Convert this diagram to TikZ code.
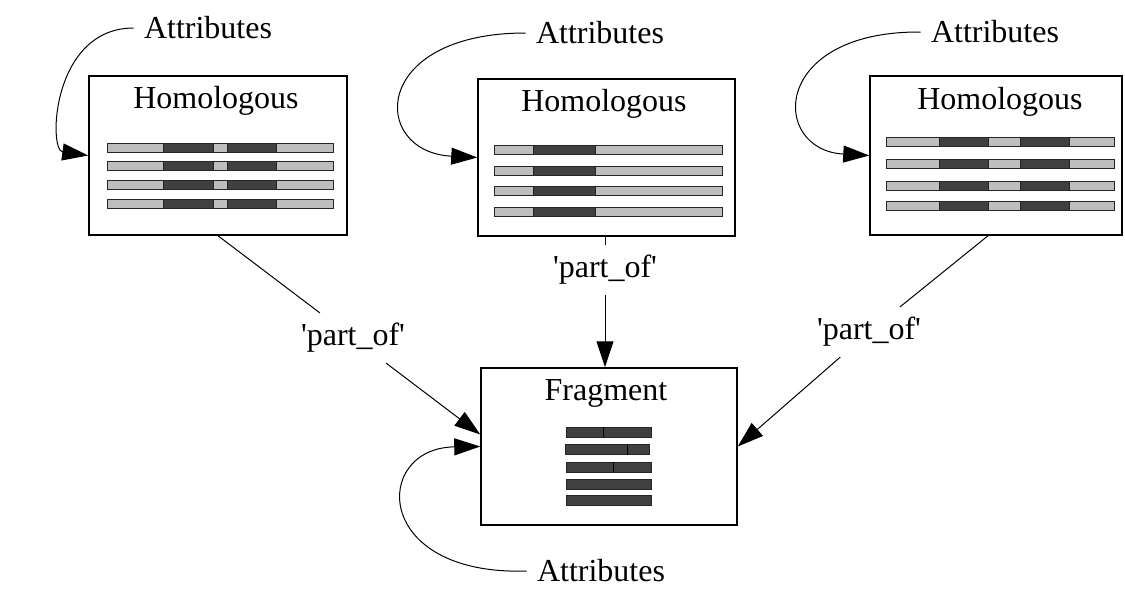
\documentclass[tikz,border=0pt]{standalone}
\usepackage{fontspec}
\setmainfont{Liberation Serif}
\usepackage{tikz}
\usetikzlibrary{arrows.meta,calc}
\definecolor{segLight}{HTML}{BEBEBE}
\definecolor{segDark}{HTML}{404040}

\begin{document}
\begin{tikzpicture}[
  x=0.5pt, y=-0.5pt,
  font=\fontsize{16}{19}\selectfont,
  box/.style={draw=black, line width=0.75pt, fill=white, inner sep=0pt},
  title/.style={inner sep=0pt},
  attr/.style={inner sep=5pt},
  rlabel/.style={inner sep=5pt},
  rel/.style={line width=0.5pt, draw=black},
  flow/.style={rel, -{Triangle[length=13pt,width=8.5pt]}},
  lite/.style={draw=black!85, line width=0.5pt, fill=segLight},
  dark/.style={draw=black!85, line width=0.5pt, fill=segDark},
]
\useasboundingbox (0,0) rectangle (1125,590);

% --- homologous boxes and the fragment --------------------------------------
\node[box, minimum width=129pt, minimum height=79.5pt] (h1) at (218,155.5) {};
\node[box, minimum width=128.5pt, minimum height=78.5pt] (h2) at (606.5,157.5) {};
\node[box, minimum width=126pt, minimum height=79.5pt] (h3) at (996,155.5) {};
\node[box, minimum width=128pt, minimum height=78.5pt] (frag) at (609,446.5) {};

\node[title] (t1) at (216,101) {Homologous};
\node[title] (t2) at (604,104) {Homologous};
\node[title] (t3) at (1000,102) {Homologous};
\node[title] (t4) at (606,393) {Fragment};

% --- aligned sequences --------------------------------------------------------
\foreach \y in {148,166,185,204}{
  \draw[lite] (107,\y-4.5) rectangle (333,\y+4.5);
  \draw[dark] (163,\y-4.5) rectangle (213,\y+4.5);
  \draw[dark] (227,\y-4.5) rectangle (276,\y+4.5);
}
\foreach \y in {150,171,191,212}{
  \draw[lite] (494,\y-4.5) rectangle (722,\y+4.5);
  \draw[dark] (533,\y-4.5) rectangle (595,\y+4.5);
}
\foreach \y in {142,164,186,206}{
  \draw[lite] (886,\y-4.5) rectangle (1114,\y+4.5);
  \draw[dark] (939,\y-4.5) rectangle (988,\y+4.5);
  \draw[dark] (1020,\y-4.5) rectangle (1069,\y+4.5);
}
\foreach \y/\a/\b/\c in {432/566/651/603, 449.5/565/649/627, 467/566/651/613, 484/566/651/0, 500.5/566/651/0}{
  \draw[dark] (\a,\y-5) rectangle (\b,\y+5);
  \ifnum\c>0 \draw[draw=black, line width=0.5pt] (\c,\y-5) -- (\c,\y+5); \fi
}

% --- attribute loops -----------------------------------------------------------
\node[attr] (a1) at (208,28) {Attributes};
\node[attr] (a2) at (600,33) {Attributes};
\node[attr] (a3) at (995,32) {Attributes};
\node[attr] (a4) at (601,571) {Attributes};

\draw[flow] (a1.west) .. controls (52,28) and (48,150) .. (h1.west);
\draw[flow] (a2.west) .. controls (370,33) and (370,152) .. (h2.west);
\draw[flow] (a3.west) .. controls (770,31) and (770,150) .. (h3.west);
\draw[flow] (a4.west) .. controls (372,576) and (372,448) .. (frag.west);

% --- part_of relations ---------------------------------------------------------
\node[rlabel] (p1) at (353,338) {\textquotesingle part\_of\textquotesingle};
\node[rlabel] (p2) at (605,270) {\textquotesingle part\_of\textquotesingle};
\node[rlabel] (p3) at (869,332) {\textquotesingle part\_of\textquotesingle};

\draw[rel]  (h1.south) -- (p1);
\draw[flow] (p1) -- ([yshift=6pt]frag.west);
\draw[rel]  (h2.south -| p2) -- (p2);
\draw[flow] (p2) -- (p2 |- frag.north);
\draw[rel]  ([xshift=-4pt]h3.south) -- (p3);
\draw[flow] (p3) -- (frag.east);

\end{tikzpicture}
\end{document}
